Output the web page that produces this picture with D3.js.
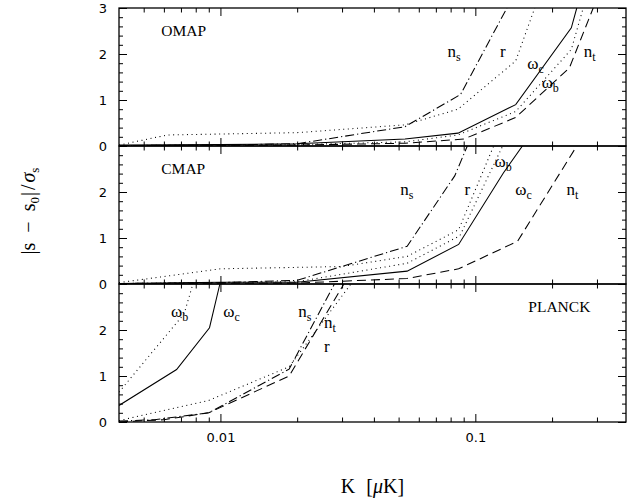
<!DOCTYPE html>
<html><head><meta charset="utf-8">
<script src="https://cdn.jsdelivr.net/npm/d3@7/dist/d3.min.js"></script>
<style>body{margin:0;background:#fff}svg{display:block}</style>
</head><body>
<svg id="chart" width="631" height="501"></svg>
<script>
// ---------- data ----------
const panelNames = ["OMAP", "CMAP", "PLANCK"];
const xTickMajor = [0.01, 0.1];
const xTickLabels = ["0.01", "0.1"];
const xTickMinor = [0.005,0.006,0.007,0.008,0.009,0.02,0.03,0.04,0.05,0.06,0.07,0.08,0.09,0.2,0.3];
const yTickMajor = [0, 1, 2, 3];
const yTickLabelsTop = ["0", "1", "2", "3"];
const yTickLabelsOther = ["0", "1", "2", ""];
const yTickMinor = [0.2,0.4,0.6,0.8,1.2,1.4,1.6,1.8,2.2,2.4,2.6,2.8];

// OMAP  [K, |s-s0|/sigma]
const omapWc = [[0.004,0.02],[0.01,0.03],[0.02,0.05],[0.053,0.15],[0.0855,0.28],[0.144,0.9],[0.238,2.57],[0.25,3.0]];
const omapWb = [[0.004,0.01],[0.02,0.03],[0.053,0.09],[0.0855,0.24],[0.144,0.75],[0.238,2.1],[0.265,3.0]];
const omapNt = [[0.004,0.01],[0.02,0.02],[0.053,0.06],[0.09,0.15],[0.144,0.62],[0.234,1.7],[0.29,3.0]];
const omapR  = [[0.004,0.02],[0.0062,0.24],[0.02,0.29],[0.053,0.46],[0.0855,0.8],[0.144,1.85],[0.171,3.0]];
const omapNs = [[0.004,0.01],[0.01,0.02],[0.02,0.05],[0.053,0.42],[0.0875,1.12],[0.133,3.0]];
// CMAP
const cmapWc = [[0.004,0.01],[0.01,0.04],[0.02,0.04],[0.054,0.28],[0.086,0.86],[0.129,2.42],[0.153,3.0]];
const cmapWb = [[0.004,0.01],[0.02,0.05],[0.054,0.45],[0.087,1.05],[0.128,3.0]];
const cmapR  = [[0.004,0.03],[0.01,0.33],[0.03,0.38],[0.054,0.6],[0.086,1.18],[0.118,3.0]];
const cmapNs = [[0.004,0.01],[0.01,0.03],[0.02,0.08],[0.054,0.82],[0.083,2.35],[0.093,3.0]];
const cmapNt = [[0.004,0.01],[0.02,0.02],[0.054,0.12],[0.086,0.33],[0.1465,0.93],[0.25,3.0]];
// PLANCK
const planckWc = [[0.004,0.36],[0.00673,1.14],[0.00906,2.05],[0.00995,3.0]];
const planckWb = [[0.004,0.65],[0.0072,2.35],[0.0078,3.0]];
const planckNs = [[0.004,0.02],[0.0055,0.05],[0.009,0.2],[0.0186,1.15],[0.028,3.0]];
const planckNt = [[0.004,0.0],[0.006,0.05],[0.009,0.2],[0.0186,1.0],[0.0305,3.0]];
const planckR  = [[0.004,0.03],[0.006,0.25],[0.009,0.47],[0.0186,1.2],[0.0325,3.0]];

// curve label anchors [K, value, main, sub]
const omapLabels = [[0.0777,1.93,"n","s"],[0.125,1.93,"r",""],[0.160,1.67,"ω","c"],[0.182,1.26,"ω","b"],[0.266,1.93,"n","t"]];
const cmapLabels = [[0.0508,1.93,"n","s"],[0.0906,1.93,"r",""],[0.119,2.55,"ω","b"],[0.1435,1.93,"ω","c"],[0.228,1.93,"n","t"]];
const planckLabels = [[0.0064,2.28,"ω","b"],[0.01026,2.28,"ω","c"],[0.0202,2.28,"n","s"],[0.0255,2.04,"n","t"],[0.0255,1.53,"r",""]];
const panelTitleAnchors = [[0.00586,2.39],[0.00586,2.39],[0.1614,2.40]];

// ---------- layout / styles ----------
const styles = {
  solid: null,
  dotted: "1,3.6",
  dashed: "9,5",
  dashdot: "9,3,1.2,3"
};
const panels = [
  {name: panelNames[0], series: [[omapWc,"solid"],[omapWb,"dotted"],[omapNt,"dashed"],[omapR,"dotted"],[omapNs,"dashdot"]], labels: omapLabels, yLabels: yTickLabelsTop},
  {name: panelNames[1], series: [[cmapWc,"solid"],[cmapWb,"dotted"],[cmapNt,"dashed"],[cmapR,"dotted"],[cmapNs,"dashdot"]], labels: cmapLabels, yLabels: yTickLabelsOther},
  {name: panelNames[2], series: [[planckWc,"solid"],[planckWb,"dotted"],[planckNt,"dashed"],[planckR,"dotted"],[planckNs,"dashdot"]], labels: planckLabels, yLabels: yTickLabelsOther}
];

const svg = d3.select("#chart");
const left = 119, right = 626, top0 = 8, ph = 138;
const x = d3.scaleLog().domain([0.004, 0.39]).range([left, right]);
const serif = "'Liberation Serif','Times New Roman',serif";
const sans = "'DejaVu Sans',sans-serif";

function styleAxis(g) {
  g.select(".domain").remove();
  g.selectAll("line").attr("stroke", "#000").attr("stroke-width", 1);
  g.selectAll("text").attr("font-family", sans).attr("font-size", 13).attr("fill", "#000");
}

panels.forEach((p, i) => {
  const t = top0 + i * ph;
  const y = d3.scaleLinear().domain([0, 3]).range([t + ph, t]);
  const g = svg.append("g");
  const clipId = "clip" + i;
  svg.append("clipPath").attr("id", clipId).append("rect")
    .attr("x", left).attr("y", t).attr("width", right - left).attr("height", ph);

  // ticks
  g.append("g").attr("transform", `translate(${left},0)`)
    .call(d3.axisLeft(y).tickValues(yTickMajor).tickSizeInner(-8).tickSizeOuter(0).tickPadding(12)
      .tickFormat((d, k) => p.yLabels[k])).call(styleAxis);
  g.append("g").attr("transform", `translate(${left},0)`)
    .call(d3.axisLeft(y).tickValues(yTickMinor).tickSizeInner(-4).tickSizeOuter(0).tickFormat("")).call(styleAxis);
  g.append("g").attr("transform", `translate(${right},0)`)
    .call(d3.axisRight(y).tickValues(yTickMajor).tickSizeInner(-8).tickSizeOuter(0).tickFormat("")).call(styleAxis);
  g.append("g").attr("transform", `translate(${right},0)`)
    .call(d3.axisRight(y).tickValues(yTickMinor).tickSizeInner(-4).tickSizeOuter(0).tickFormat("")).call(styleAxis);
  g.append("g").attr("transform", `translate(0,${t})`)
    .call(d3.axisTop(x).tickValues(xTickMajor).tickSizeInner(-8).tickSizeOuter(0).tickFormat("")).call(styleAxis);
  g.append("g").attr("transform", `translate(0,${t})`)
    .call(d3.axisTop(x).tickValues(xTickMinor).tickSizeInner(-4.5).tickSizeOuter(0).tickFormat("")).call(styleAxis);
  g.append("g").attr("transform", `translate(0,${t + ph})`)
    .call(d3.axisBottom(x).tickValues(xTickMajor).tickSizeInner(-8).tickSizeOuter(0).tickPadding(11)
      .tickFormat((d, k) => i === 2 ? xTickLabels[k] : "")).call(styleAxis);
  g.append("g").attr("transform", `translate(0,${t + ph})`)
    .call(d3.axisBottom(x).tickValues(xTickMinor).tickSizeInner(-4.5).tickSizeOuter(0).tickFormat("")).call(styleAxis);

  // frame
  g.append("rect").attr("x", left).attr("y", t).attr("width", right - left).attr("height", ph)
    .attr("fill", "none").attr("stroke", "#000").attr("stroke-width", 1.3);

  // curves
  const line = d3.line().x(d => x(d[0])).y(d => y(d[1]));
  const cg = g.append("g").attr("clip-path", `url(#${clipId})`);
  p.series.forEach(([data, st]) => {
    cg.append("path").attr("d", line(data)).attr("fill", "none").attr("stroke", "#000")
      .attr("stroke-width", 1.05).attr("stroke-dasharray", styles[st]);
  });

  // panel title
  const ta = panelTitleAnchors[i];
  g.append("text").attr("x", x(ta[0])).attr("y", y(ta[1])).attr("font-family", serif)
    .attr("font-size", 15.5).text(p.name);

  // curve labels
  p.labels.forEach(([k, v, m, s]) => {
    const tx = g.append("text").attr("x", x(k)).attr("y", y(v)).attr("font-family", serif).attr("font-size", 17);
    tx.append("tspan").text(m);
    if (s) tx.append("tspan").attr("dy", 4).attr("font-size", 12).text(s);
  });
});

// axis titles
const xt = svg.append("text").attr("x", (left + right) / 2).attr("y", 493).attr("text-anchor", "middle")
  .attr("font-family", serif).attr("font-size", 20);
xt.append("tspan").text("K");
xt.append("tspan").attr("dx", 11).text("[");
xt.append("tspan").attr("font-style", "italic").text("μ");
xt.append("tspan").text("K]");

const yt = svg.append("text").attr("transform", "translate(35,211) rotate(-90)").attr("text-anchor", "middle")
  .attr("font-family", serif).attr("font-size", 20);
yt.append("tspan").text("|s");
yt.append("tspan").attr("dx", 10).text("−");
yt.append("tspan").attr("dx", 10).text("s");
yt.append("tspan").attr("dy", 4).attr("font-size", 13).text("0");
yt.append("tspan").attr("dy", -4).attr("dx", 1).text("|");
yt.append("tspan").attr("dx", 2).text("/");
yt.append("tspan").attr("dx", 2).attr("font-style", "italic").text("σ");
yt.append("tspan").attr("dy", 4).attr("font-size", 13).text("s");
</script>
</body></html>
